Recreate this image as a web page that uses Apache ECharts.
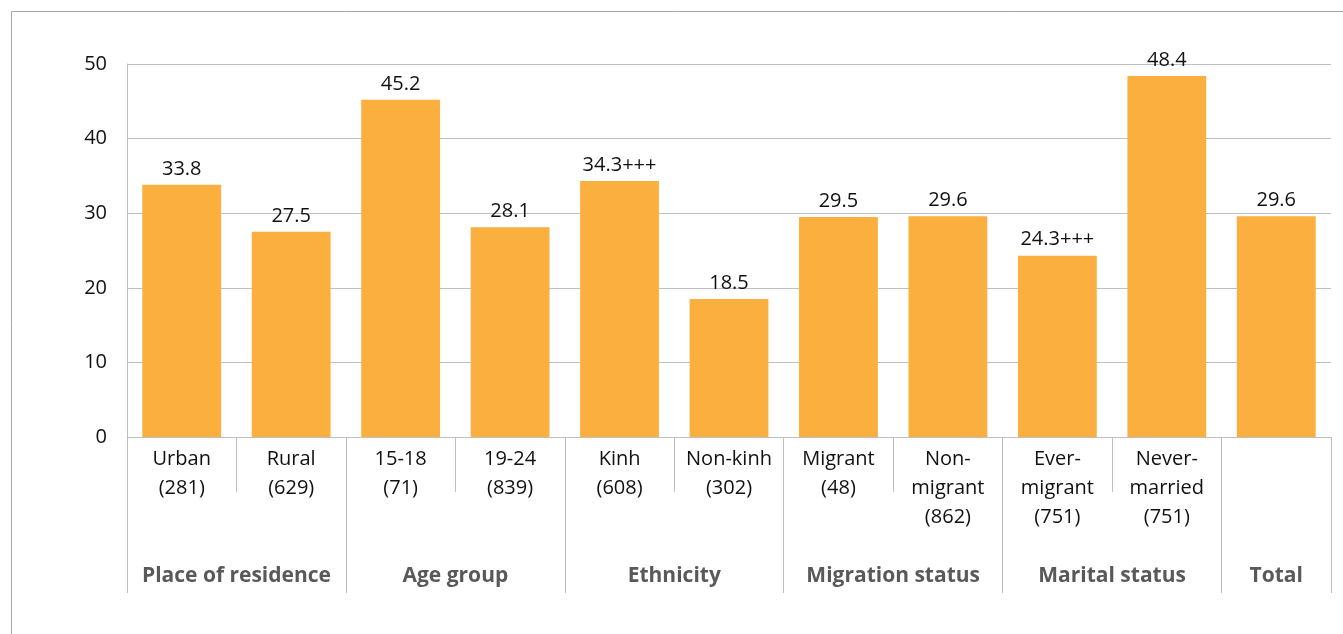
<!DOCTYPE html>
<html>
<head>
<meta charset="utf-8">
<script src="https://cdn.jsdelivr.net/npm/echarts@6/dist/echarts.min.js"></script>
<style>
  html, body { margin: 0; padding: 0; background: #fff; }
  #chart { width: 1343px; height: 634px; }
</style>
</head>
<body>
<div id="chart"></div>
<script>
const categories = [
  'Urban\n(281)', 'Rural\n(629)', '15-18\n(71)', '19-24\n(839)',
  'Kinh\n(608)', 'Non-kinh\n(302)', 'Migrant\n(48)', 'Non-\nmigrant\n(862)',
  'Ever-\nmigrant\n(751)', 'Never-\nmarried\n(751)', ''
]
const values = [33.8, 27.5, 45.2, 28.1, 34.3, 18.5, 29.5, 29.6, 24.3, 48.4, 29.6]
const valueLabels = ['33.8', '27.5', '45.2', '28.1', '34.3+++', '18.5', '29.5', '29.6', '24.3+++', '48.4', '29.6']
const groupNames = ['Place of residence', 'Age group', 'Ethnicity', 'Migration status', 'Marital status', 'Total']
const groupSizes = [2, 2, 2, 2, 2, 1]
const yTicks = [0, 10, 20, 30, 40, 50]

// group boundaries and centres on a 0..n value scale
let bounds = [0]
let centres = []
groupSizes.forEach(s => {
  let start = bounds[bounds.length - 1]
  centres.push(start + s / 2)
  bounds.push(start + s)
})

const font = '"Open Sans", sans-serif'
const gridColor = '#BFBFBF'

let chart = echarts.init(document.getElementById('chart'))
chart.setOption({
  animation: false,
  grid: { left: 127, right: 12, top: 64, bottom: 197 },
  graphic: [{
    type: 'rect',
    shape: { x: 11.5, y: 11.5, width: 1500, height: 800 },
    style: { fill: 'none', stroke: '#A6A6A6', lineWidth: 1 },
    silent: true
  }],
  xAxis: [{
    type: 'category',
    data: categories,
    axisLine: { lineStyle: { color: gridColor } },
    axisTick: { show: true, length: 55, interval: 0, lineStyle: { color: gridColor } },
    axisLabel: {
      interval: 0,
      margin: 8,
      color: '#111',
      fontFamily: font,
      fontSize: 20,
      lineHeight: 29,
      verticalAlign: 'top'
    }
  }, {
    type: 'value',
    position: 'bottom',
    min: 0,
    max: categories.length,
    axisLine: { show: false },
    splitLine: { show: false },
    axisTick: {
      show: true,
      length: 156,
      customValues: bounds,
      lineStyle: { color: gridColor }
    },
    axisLabel: {
      customValues: centres,
      margin: 129,
      color: '#595959',
      fontFamily: font,
      fontWeight: 'bold',
      fontSize: 21,
      formatter: v => groupNames[centres.indexOf(v)]
    }
  }],
  yAxis: {
    type: 'value',
    min: 0,
    max: 50,
    interval: 10,
    axisLine: { show: true, lineStyle: { color: gridColor } },
    axisTick: { show: false },
    splitLine: { lineStyle: { color: gridColor } },
    axisLabel: {
      margin: 20,
      color: '#111',
      fontFamily: font,
      fontSize: 20,
      formatter: v => yTicks.includes(v) ? String(v) : ''
    }
  },
  series: [{
    type: 'bar',
    data: values,
    barWidth: '72%',
    itemStyle: { color: '#FBAF3F' },
    label: {
      show: true,
      position: 'top',
      distance: 6,
      color: '#111',
      fontFamily: font,
      fontSize: 20,
      formatter: p => valueLabels[p.dataIndex]
    }
  }]
})
</script>
</body>
</html>
